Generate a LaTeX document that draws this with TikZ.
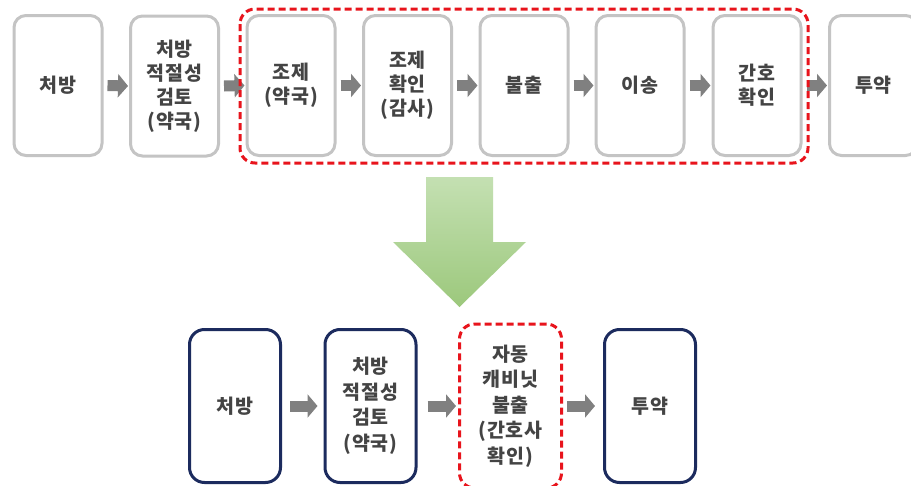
\documentclass[tikz,border=0pt]{standalone}
\usepackage{fontspec}
\setmainfont{Noto Sans CJK KR}[LetterSpace=4]
\usetikzlibrary{arrows.meta}
\definecolor{boxgray}{HTML}{C4C4C4}
\definecolor{navy}{HTML}{1C2B5E}
\definecolor{txt}{HTML}{444444}
\definecolor{arrgray}{HTML}{808080}
\definecolor{dashred}{HTML}{E8141C}
\tikzset{
  txtstyle/.style={text=txt, font=\bfseries\fontsize{19.5}{24}\selectfont, align=center},
  graybox/.style={txtstyle, draw=boxgray, line width=3pt, rounded corners=12pt, minimum width=88pt, minimum height=140pt, inner sep=0pt, fill=white},
  navybox/.style={txtstyle, draw=navy, line width=3pt, rounded corners=15pt, minimum width=91pt, minimum height=153pt, inner sep=0pt, font=\bfseries\fontsize{19.5}{25.5}\selectfont},
  redbox/.style={txtstyle, draw=dashred, line width=3pt, dash pattern=on 7pt off 4pt, rounded corners=15pt, minimum width=102pt, minimum height=164pt, inner sep=0pt, font=\bfseries\fontsize{19.5}{25.5}\selectfont},
  blockarrow/.style={draw=arrgray, line width=11pt, -{Triangle[length=10pt,width=23pt]}},
}
\begin{document}
\begin{tikzpicture}[x=1pt,y=-1pt]
\clip (0,0) rectangle (911,485);
\fill[white] (0,0) rectangle (911,485);
% top row
\node[graybox] (t1) at (58,85.5) {처방};
\node[graybox] (t2) at (174.5,86) {처방\\적절성\\검토\\(약국)};
\node[graybox] (t3) at (291,85.5) {조제\\(약국)};
\node[graybox] (t4) at (407.5,85.5) {조제\\확인\\(감사)};
\node[graybox] (t5) at (524,85.5) {불출};
\node[graybox] (t6) at (640,85.5) {이송};
\node[graybox] (t7) at (757,85.5) {간호\\확인};
\node[graybox] (t8) at (873.5,85.5) {투약};
\foreach \a/\b in {t1/t2,t2/t3,t3/t4,t4/t5,t5/t6,t6/t7,t7/t8}
  \draw[blockarrow] ([xshift=4pt]\a.east) -- ([xshift=-1pt]\b.west);
\draw[dashred, line width=3pt, dash pattern=on 7pt off 4pt, rounded corners=15pt] (240,9) rectangle (808,163);
% green arrow
\shade[top color={rgb,255:red,196;green,224;blue,178}, bottom color={rgb,255:red,156;green,200;blue,124}]
  (426,177) -- (493,177) -- (493,242) -- (526,242) -- (459.5,307) -- (393,242) -- (426,242) -- cycle;
% bottom row
\node[navybox] (b1) at (235,406) {처방};
\node[navybox] (b2) at (370.5,406) {처방\\적절성\\검토\\(약국)};
\node[redbox] (b3) at (510.5,406) {자동\\캐비닛\\불출\\(간호사\\확인)};
\node[navybox] (b4) at (650,406) {투약};
\draw[blockarrow] ([xshift=8pt]b1.east) -- ([xshift=-6pt]b2.west);
\draw[blockarrow] ([xshift=10pt]b2.east) -- ([xshift=-2pt]b3.west);
\draw[blockarrow] ([xshift=4pt]b3.east) -- ([xshift=-8pt]b4.west);
\end{tikzpicture}
\end{document}
